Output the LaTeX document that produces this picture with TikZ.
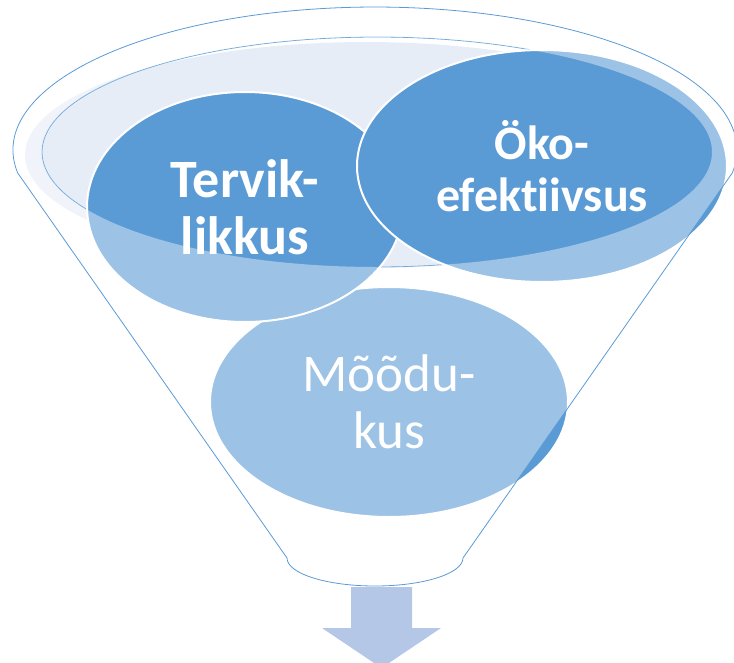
\documentclass[tikz,border=0pt]{standalone}
\usepackage{fontspec}
\setmainfont{Carlito}[Ligatures=NoCommon]
\usetikzlibrary{shapes.geometric}

\definecolor{funnelblue}{RGB}{91,155,213}
\definecolor{rimfill}{RGB}{231,237,247}
\definecolor{arrowblue}{RGB}{180,199,231}

\begin{document}
\begin{tikzpicture}[x=1pt, y=-1pt]

   \tikzstyle{bubble}=[ellipse, draw=white, line width=2pt, fill=funnelblue, text=white, align=center, inner sep=0pt]
   \tikzstyle{rim}=[draw=funnelblue, line width=0.8pt]

   \useasboundingbox (0,0) rectangle (734,662);

   % inside of the rim
   \fill[rimfill] (366,155) ellipse [x radius=341, y radius=113];
   \draw[rim] (377,152) ellipse [x radius=335, y radius=115];

   \node[bubble, minimum width=358pt, minimum height=230pt, font=\fontsize{53}{57}\selectfont] (moodukus) at (389,402) {Mõõdu-\\kus};
   \node[bubble, minimum width=316pt, minimum height=230pt, font=\fontsize{54}{57}\selectfont\bfseries] (terviklikkus) at (245,207) {Tervik-\\likkus};
   \node[bubble, minimum width=370pt, minimum height=232pt, font=\fontsize{48}{52}\selectfont\bfseries] (okoefektiivsus) at (542,166) {Öko-\\efektiivsus};

   % front of the funnel
   \begin{scope}
   \clip (17.7,173) arc[start angle=170.75, end angle=369.25, x radius=362, y radius=143] -- (463,558)
      arc[start angle=0, end angle=180, x radius=88, y radius=28] -- cycle;
   \fill[white, opacity=0.4, even odd rule] (0,0) rectangle (734,662) (377,152) ellipse [x radius=335, y radius=115];
   \end{scope}

   \fill[arrowblue] (351,587) -- (412,587) -- (412,628) -- (441,628) -- (381.5,668) -- (322,628) -- (351,628) -- cycle;

   \draw[rim] (17.7,173) arc[start angle=170.75, end angle=369.25, x radius=362, y radius=143] -- (463,558)
      arc[start angle=0, end angle=180, x radius=88, y radius=28] -- cycle;
\end{tikzpicture}
\end{document}
